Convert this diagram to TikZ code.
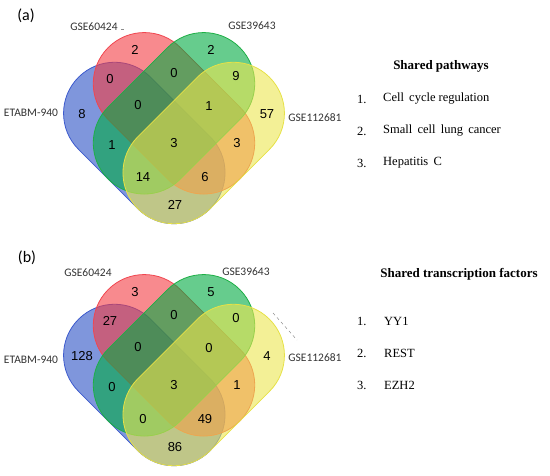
\documentclass[tikz,border=0pt]{standalone}
\usepackage{fontspec}
\setmainfont{Liberation Serif}
\newfontfamily\labfont{Carlito}
\newfontfamily\numfont{Liberation Sans}
\definecolor{cblue}{RGB}{42,80,197}
\definecolor{cred}{RGB}{243,60,66}
\definecolor{cgreen}{RGB}{0,170,65}
\definecolor{cyellow}{RGB}{235,230,80}
\definecolor{lblue}{RGB}{60,90,205}
\definecolor{lred}{RGB}{240,70,80}
\definecolor{lgreen}{RGB}{30,175,70}
\definecolor{lyellow}{RGB}{230,225,70}
\begin{document}
\begin{tikzpicture}[x=1pt,y=-1pt,
  capsule/.style={rectangle, rounded corners=50.9pt, minimum width=186pt,
    minimum height=102pt, inner sep=0pt, fill opacity=0.6, line width=0.8pt},
  setlabel/.style={font=\labfont\fontsize{11.5}{13}\selectfont, text=black!80},
  cnt/.style={font=\numfont\fontsize{13}{15}\selectfont},
  panel/.style={font=\labfont\fontsize{16}{18}\selectfont},
  head/.style={font=\bfseries\fontsize{13}{15}\selectfont},
  item/.style={font=\fontsize{12.5}{14}\selectfont, anchor=west, inner sep=0pt},
  leader/.style={draw=black!45, line width=0.5pt, dashed}]
\useasboundingbox (0,0) rectangle (550,476);

% ---------- panel (a) ----------
\node[panel] (pa) at (26,16) {(a)};
\begin{scope}[shift={(174,143)}]
  \node[capsule, rotate=-45, fill=cblue, draw=lblue] (aB) at (-29.7,0) {};
  \node[capsule, rotate=-45, fill=cred, draw=lred] (aR) at (0,-29.7) {};
  \node[capsule, rotate=45, fill=cgreen, draw=lgreen] (aG) at (0,-29.7) {};
  \node[capsule, rotate=45, fill=cyellow, draw=lyellow] (aY) at (29.7,0) {};
  \node[cnt] (a1) at (-92,-29) {8};
  \node[cnt] (a2) at (-39,-93) {2};
  \node[cnt] (a3) at (37,-93) {2};
  \node[cnt] (a4) at (93,-29) {57};
  \node[cnt] (a5) at (-64,-64) {0};
  \node[cnt] (a6) at (0,-70) {0};
  \node[cnt] (a7) at (62,-67) {9};
  \node[cnt] (a8) at (-36,-38) {0};
  \node[cnt] (a9) at (35,-37) {1};
  \node[cnt] (a10) at (-62,2) {1};
  \node[cnt] (a11) at (0,0) {3};
  \node[cnt] (a12) at (63,0) {3};
  \node[cnt] (a13) at (-31,34) {14};
  \node[cnt] (a14) at (31,34) {6};
  \node[cnt] (a15) at (1,62) {27};
\end{scope}
\node[setlabel] (laR) at (94,27) {GSE60424};
\node[setlabel] (laG) at (252,26) {GSE39643};
\node[setlabel] (laB) at (31,113) {ETABM-940};
\node[setlabel] (laY) at (315,118) {GSE112681};
\coordinate (ldA1) at (121,29.5);
\coordinate (ldA2) at (124,29.5);
\draw[draw=black!45, line width=0.6pt] (ldA1) -- (ldA2);

\node[head] (ha) at (441,66) {Shared pathways};
\node[item] (ia1) at (357,99) {1.};
\node[item] (ta1) at (383,99) {Cell\, cycle regulation};
\node[item] (ia2) at (357,131) {2.};
\node[item] (ta2) at (383,131) {Small\, cell\, lung\, cancer};
\node[item] (ia3) at (357,163) {3.};
\node[item] (ta3) at (383,163) {Hepatitis\, C};

% ---------- panel (b) ----------
\node[panel] (pb) at (27,258) {(b)};
\begin{scope}[shift={(174,385)}]
  \node[capsule, rotate=-45, fill=cblue, draw=lblue] (bB) at (-29.7,0) {};
  \node[capsule, rotate=-45, fill=cred, draw=lred] (bR) at (0,-29.7) {};
  \node[capsule, rotate=45, fill=cgreen, draw=lgreen] (bG) at (0,-29.7) {};
  \node[capsule, rotate=45, fill=cyellow, draw=lyellow] (bY) at (29.7,0) {};
  \node[cnt] (b1) at (-92,-29) {128};
  \node[cnt] (b2) at (-39,-93) {3};
  \node[cnt] (b3) at (37,-93) {5};
  \node[cnt] (b4) at (93,-29) {4};
  \node[cnt] (b5) at (-64,-64) {27};
  \node[cnt] (b6) at (0,-70) {0};
  \node[cnt] (b7) at (62,-67) {0};
  \node[cnt] (b8) at (-36,-38) {0};
  \node[cnt] (b9) at (35,-37) {0};
  \node[cnt] (b10) at (-62,2) {0};
  \node[cnt] (b11) at (0,0) {3};
  \node[cnt] (b12) at (63,0) {1};
  \node[cnt] (b13) at (-31,34) {0};
  \node[cnt] (b14) at (31,34) {49};
  \node[cnt] (b15) at (1,62) {86};
\end{scope}
\node[setlabel] (lbR) at (88,273) {GSE60424};
\node[setlabel] (lbG) at (246,272) {GSE39643};
\node[setlabel] (lbB) at (31,360) {ETABM-940};
\node[setlabel] (lbY) at (315,358) {GSE112681};
\coordinate (ldB1) at (273,313);
\coordinate (ldB2) at (297,340);
\draw[leader] (ldB1) -- (ldB2);

\node[head] (hb) at (459,274) {Shared transcription factors};
\node[item] (ib1) at (357,321) {1.};
\node[item] (tb1) at (384,321) {YY1};
\node[item] (ib2) at (357,353) {2.};
\node[item] (tb2) at (384,353) {REST};
\node[item] (ib3) at (357,385) {3.};
\node[item] (tb3) at (384,385) {EZH2};
\end{tikzpicture}
\end{document}
